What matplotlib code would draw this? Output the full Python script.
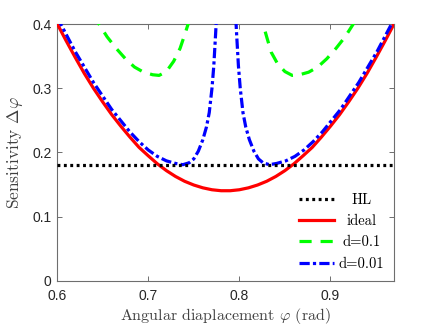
import matplotlib
matplotlib.use("Agg")
import matplotlib.pyplot as plt
from matplotlib.lines import Line2D

plt.rcParams['mathtext.fontset'] = 'cm'
plt.rcParams['axes.unicode_minus'] = False

# ---------------- data ----------------
hl_phi = [0.60, 0.97]
hl_val = [0.180, 0.180]

ideal_phi = [0.60, 0.61, 0.62, 0.63, 0.64, 0.65, 0.66, 0.67, 0.68, 0.69,
             0.70, 0.71, 0.72, 0.73, 0.74, 0.75, 0.76, 0.77, 0.78, 0.79,
             0.80, 0.81, 0.82, 0.83, 0.84, 0.85, 0.86, 0.87, 0.88, 0.89,
             0.90, 0.91, 0.92, 0.93, 0.94, 0.95, 0.96, 0.97]
ideal_val = [0.401, 0.374, 0.348, 0.323, 0.300, 0.279, 0.259, 0.241, 0.224, 0.208,
             0.195, 0.1825, 0.1718, 0.1627, 0.1552, 0.1494, 0.1450, 0.1420, 0.1405, 0.1405,
             0.1420, 0.1450, 0.1494, 0.1552, 0.1627, 0.1718, 0.1825, 0.195, 0.208, 0.224,
             0.241, 0.259, 0.279, 0.300, 0.323, 0.348, 0.374, 0.401]

d01_left_phi = [0.640, 0.646, 0.655, 0.665, 0.675, 0.685, 0.695, 0.705, 0.712,
                0.720, 0.728, 0.735, 0.740, 0.745, 0.748]
d01_left_val = [0.415, 0.400, 0.380, 0.362, 0.346, 0.333, 0.325, 0.321, 0.320,
                0.326, 0.342, 0.362, 0.383, 0.405, 0.420]
d01_right_phi = [0.823, 0.826, 0.830, 0.835, 0.842, 0.850, 0.858, 0.866, 0.876,
                 0.886, 0.896, 0.906, 0.916, 0.925, 0.931]
d01_right_val = [0.420, 0.400, 0.380, 0.356, 0.338, 0.326, 0.320, 0.321, 0.325,
                 0.333, 0.346, 0.362, 0.380, 0.400, 0.415]

d001_left_phi = [0.600, 0.620, 0.640, 0.660, 0.680, 0.690, 0.700, 0.710, 0.720,
                 0.730, 0.738, 0.745, 0.750, 0.755, 0.760, 0.764, 0.767, 0.770,
                 0.772, 0.774, 0.776]
d001_left_val = [0.411, 0.357, 0.309, 0.267, 0.232, 0.217, 0.204, 0.194, 0.187,
                 0.183, 0.181, 0.184, 0.190, 0.202, 0.220, 0.240, 0.262, 0.300,
                 0.335, 0.385, 0.440]
d001_right_phi = [0.795, 0.797, 0.799, 0.801, 0.804, 0.807, 0.811, 0.816, 0.821,
                  0.826, 0.833, 0.841, 0.851, 0.861, 0.871, 0.881, 0.891, 0.911,
                  0.931, 0.951, 0.971]
d001_right_val = [0.440, 0.385, 0.335, 0.300, 0.262, 0.240, 0.220, 0.202, 0.190,
                  0.184, 0.181, 0.183, 0.187, 0.194, 0.204, 0.217, 0.232, 0.267,
                  0.309, 0.357, 0.411]

legend_labels = ['HL', 'ideal', 'd=0.1', 'd=0.01']
x_ticks = [0.6, 0.7, 0.8, 0.9]
x_ticklabels = ['0.6', '0.7', '0.8', '0.9']
y_ticks = [0, 0.1, 0.2, 0.3, 0.4]
y_ticklabels = ['0', '0.1', '0.2', '0.3', '0.4']

# ---------------- figure ----------------
fig = plt.figure(figsize=(4.36, 3.27), dpi=100)
ax = fig.add_axes([0.1307, 0.1407, 0.7737, 0.7859])

lw = 2.3
hl_ls = (0, (0.9, 1.1))
ax.plot(hl_phi, hl_val, color='black', lw=lw, linestyle=hl_ls,
        dash_capstyle='butt', zorder=5)
ax.plot(ideal_phi, ideal_val, color='#ff0000', lw=lw, solid_capstyle='butt',
        solid_joinstyle='round', zorder=3)
green_ls = (0, (3.8, 2.8))
ax.plot(d01_left_phi, d01_left_val, color='#00ff00', lw=lw, linestyle=green_ls, zorder=4)
ax.plot(d01_right_phi, d01_right_val, color='#00ff00', lw=lw, linestyle=green_ls, zorder=4)
blue_ls = (0, (3.2, 1.0, 1.0, 1.0))
ax.plot(d001_left_phi, d001_left_val, color='#0000ff', lw=lw, linestyle=blue_ls, zorder=4)
ax.plot(d001_right_phi, d001_right_val, color='#0000ff', lw=lw, linestyle=blue_ls, zorder=4)

ax.set_xlim(0.6, 0.97)
ax.set_ylim(0, 0.4)
ax.set_xticks(x_ticks)
ax.set_xticklabels(x_ticklabels)
ax.set_yticks(y_ticks)
ax.set_yticklabels(y_ticklabels)

axis_color = '#6e6e6e'
for s in ax.spines.values():
    s.set_color(axis_color)
    s.set_linewidth(0.8)
ax.tick_params(direction='in', length=3.5, width=0.7, color=axis_color,
               top=True, right=True, labelsize=10, labelcolor='#262626')
ax.tick_params(axis='x', pad=6)
ax.tick_params(axis='y', pad=4)
for lab in ax.get_xticklabels() + ax.get_yticklabels():
    lab.set_fontfamily('Liberation Sans')

ax.set_xlabel(r'Angular diaplacement $\varphi$ (rad)', fontfamily='cmr10',
              fontsize=11.5, color='#404040', labelpad=2)
ax.set_ylabel(r'Sensitivity $\Delta\varphi$', fontfamily='cmr10',
              fontsize=12.5, color='#404040', labelpad=5)

handles = [
    Line2D([], [], color='black', lw=lw, linestyle=hl_ls),
    Line2D([], [], color='#ff0000', lw=lw),
    Line2D([], [], color='#00ff00', lw=lw, linestyle=green_ls),
    Line2D([], [], color='#0000ff', lw=lw, linestyle=blue_ls),
]
leg = ax.legend(handles, legend_labels, loc='lower right', frameon=False,
                prop={'family': 'cmr10', 'size': 10.5}, handlelength=2.4,
                handletextpad=0.3, labelspacing=0.52,
                bbox_to_anchor=(1.0, 0.0), borderaxespad=0.3)
for t in leg.get_texts():
    t.set_color('black')

# centre the legend texts like the reference
renderer = fig.canvas.get_renderer()
widths = [t.get_window_extent(renderer).width for t in leg.get_texts()]
wmax = max(widths)
for t, w in zip(leg.get_texts(), widths):
    t.set_x((wmax - w) / 2.0)

fig.savefig('out.png', dpi=100)
